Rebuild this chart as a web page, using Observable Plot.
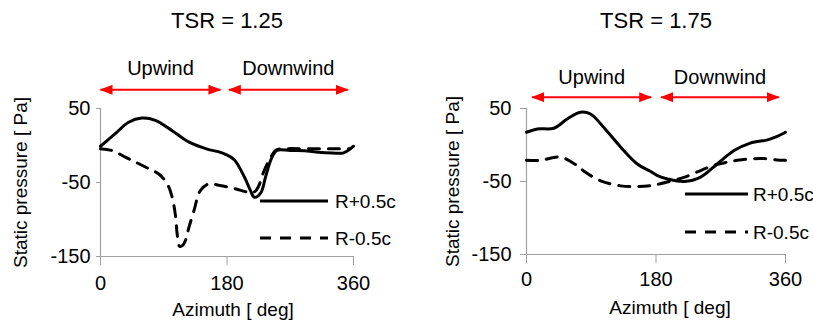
<!DOCTYPE html>
<html><head><meta charset="utf-8">
<script src="https://cdn.jsdelivr.net/npm/d3@7"></script>
<script src="https://cdn.jsdelivr.net/npm/@observablehq/plot@0.6"></script>
<style>
html,body{margin:0;padding:0;background:#fff;}
#chart{position:relative;width:813px;height:323px;font-family:"Liberation Sans",Arial,sans-serif;overflow:hidden;background:#fff;}
#chart svg{position:absolute;top:0;}
</style></head><body><div id="chart"></div>
<script>
// ---------- data ----------
const titles = ["TSR = 1.25", "TSR = 1.75"];
const seriesNames = ["R+0.5c", "R-0.5c"];
const regionLabels = ["Upwind", "Downwind"];
const xTicks = [0, 180, 360];
const yTicks = [-150, -50, 50];
const xDomain = [0, 360];
const yDomain = [-150, 50];
const xLabel = "Azimuth [ deg]";
const yLabel = "Static pressure [ Pa]";

// TSR = 1.25
const tsr125PlusAz = [0, 21, 40, 59, 78, 102, 126, 154, 166, 178, 190, 205, 213, 219, 228, 235, 243, 251, 270, 290, 310, 330, 346, 360];
const tsr125PlusP  = [-1, 16, 31.5, 37, 34, 20, 4.5, -5.5, -8, -12, -19, -43, -60, -70, -64, -42, -18, -6.5, -6.8, -7, -9, -10, -10, -1];
const tsr125MinusAz = [0, 17, 36, 50, 69, 83, 95, 102, 107, 109, 112.5, 117, 121, 126, 133, 142, 154, 170, 190, 205, 213, 220, 225, 232, 241, 250, 260, 300, 330, 355];
const tsr125MinusP  = [-4.5, -7, -16, -22.5, -31.5, -38.5, -52, -70, -97, -119, -136, -135, -128, -110, -88, -61, -52, -54, -58, -62, -64, -62, -55, -36, -18, -6, -4.5, -4.5, -4.5, -4.5];
const tsr125RegionStart = [0, 182.6];
const tsr125RegionEnd = [170.7, 351.9];

// TSR = 1.75
const tsr175PlusAz = [0, 15, 38, 57, 75, 89, 107.5, 131, 154, 172, 182, 196, 219, 242, 265, 288, 311, 335, 344, 360];
const tsr175PlusP  = [17.5, 22, 23, 36, 45, 42.5, 24, -3, -26, -36, -42, -46.5, -50, -44, -26, -8, 2.5, 7, 10, 17.5];
const tsr175MinusAz = [0, 19.5, 47, 70, 80, 103, 131, 154, 172, 186, 205, 220, 242, 260, 279, 293, 311, 330, 348, 360];
const tsr175MinusP  = [-21, -21, -16.5, -28, -36, -49, -56, -57, -55.7, -53, -48.4, -44, -35, -28, -23.5, -21, -19, -18.6, -20.4, -21];
const tsr175RegionStart = [7.9, 187.2];
const tsr175RegionEnd = [173.3, 350.7];

// ---------- layout / style ----------
const gray = "#a0a0a0";
const font = "Liberation Sans, Arial, sans-serif";
const dash = "11,9";
const panels = [
  {id: "a", left: 0, width: 406, ml: 100, mr: 53, mt: 108, mb: 67, title: titles[0],
   plus: [tsr125PlusAz, tsr125PlusP], minus: [tsr125MinusAz, tsr125MinusP],
   regStart: tsr125RegionStart, regEnd: tsr125RegionEnd,
   arrowDy: -18.7, regLabelDy: -40, yTickSize: 4, yTickPad: 6, xTickPad: 10,
   yLabelDx: -80, xLabelDx: 6, xLabelDy: 53,
   legend: {x1: 260, x2: 328, ys: [201, 238], tx: 335}},
  {id: "b", left: 406, width: 407, ml: 120, mr: 28, mt: 108, mb: 69, title: titles[1],
   plus: [tsr175PlusAz, tsr175PlusP], minus: [tsr175MinusAz, tsr175MinusP],
   regStart: tsr175RegionStart, regEnd: tsr175RegionEnd,
   arrowDy: -11.3, regLabelDy: -31, yTickSize: 6, yTickPad: 9, xTickPad: 8,
   yLabelDx: -74, xLabelDx: 14, xLabelDy: 53,
   legend: {x1: 685, x2: 748, ys: [194, 232], tx: 753}}
];

const chart = document.getElementById("chart");
const toRows = ([az, p]) => az.map((a, i) => ({az: a, p: p[i]}));
const hyphen = d => String(d);

for (const P of panels) {
  const regions = regionLabels.map((label, i) => ({
    label, x1: P.regStart[i], x2: P.regEnd[i], xm: (P.regStart[i] + P.regEnd[i]) / 2
  }));
  const svg = Plot.plot({
    width: P.width, height: 323,
    marginLeft: P.ml, marginRight: P.mr, marginTop: P.mt, marginBottom: P.mb,
    style: {fontFamily: font, fontSize: "20px", color: "#000", background: "transparent", overflow: "visible"},
    x: {domain: xDomain},
    y: {domain: yDomain},
    marks: [
      Plot.ruleX([xDomain[0]], {stroke: gray, strokeWidth: 1.2}),
      Plot.ruleY([yDomain[0]], {stroke: gray, strokeWidth: 1.2}),
      Plot.axisY({ticks: yTicks, tickFormat: hyphen, tickSize: P.yTickSize, tickPadding: P.yTickPad, stroke: gray, fill: "#000", fontSize: 20, label: null}),
      Plot.axisX({ticks: xTicks, tickFormat: hyphen, tickSize: 9, tickPadding: P.xTickPad, stroke: gray, fill: "#000", fontSize: 20, label: null}),
      Plot.line(toRows(P.minus), {x: "az", y: "p", stroke: "#000", strokeWidth: 3, strokeDasharray: dash, curve: "catmull-rom"}),
      Plot.line(toRows(P.plus), {x: "az", y: "p", stroke: "#000", strokeWidth: 3, curve: "catmull-rom"}),
      Plot.link(regions, {x1: "x1", x2: "x2", y1: () => yDomain[1], y2: () => yDomain[1], dy: P.arrowDy, stroke: "red", strokeWidth: 2}),
      Plot.text(regions, {x: "xm", y: () => yDomain[1], text: "label", dy: P.regLabelDy, fontSize: 20, fill: "#000", lineAnchor: "middle"}),
      Plot.text([P.title], {frameAnchor: "top", text: d => d, dy: -88, fontSize: 22, fill: "#000", lineAnchor: "middle", textAnchor: "middle"}),
      Plot.text([yLabel], {frameAnchor: "left", text: d => d, dx: P.yLabelDx, rotate: -90, fontSize: 19, fill: "#000", lineAnchor: "middle", textAnchor: "middle"}),
      Plot.text([xLabel], {frameAnchor: "bottom", text: d => d, dx: P.xLabelDx, dy: P.xLabelDy, fontSize: 19, fill: "#000", lineAnchor: "middle", textAnchor: "middle"})
    ]
  });
  svg.style.left = P.left + "px";
  // double-headed filled arrows
  const mid = "arrowhead-" + P.id;
  const s = d3.select(svg);
  s.insert("defs", ":first-child").append("marker")
    .attr("id", mid).attr("viewBox", "0 0 13 10").attr("refX", 12).attr("refY", 5)
    .attr("markerWidth", 13).attr("markerHeight", 10).attr("markerUnits", "userSpaceOnUse")
    .attr("orient", "auto-start-reverse")
    .append("path").attr("d", "M0,0L13,5L0,10Z").attr("fill", "red");
  s.selectAll('g[aria-label="link"] path')
    .attr("marker-start", `url(#${mid})`).attr("marker-end", `url(#${mid})`);
  chart.appendChild(svg);
}

// legends (overlay)
const leg = d3.select(chart).append("svg").attr("width", 813).attr("height", 323)
  .style("left", "0px").style("pointer-events", "none");
for (const P of panels) {
  seriesNames.forEach((name, i) => {
    const y = P.legend.ys[i];
    leg.append("line").attr("x1", P.legend.x1).attr("x2", P.legend.x2).attr("y1", y).attr("y2", y)
      .attr("stroke", "#000").attr("stroke-width", 3.2)
      .attr("stroke-dasharray", i === 1 ? dash : null);
    leg.append("text").attr("x", P.legend.tx).attr("y", y).attr("dy", "0.35em")
      .attr("font-family", font).attr("font-size", 19).attr("fill", "#000").text(name);
  });
}
</script></body></html>
